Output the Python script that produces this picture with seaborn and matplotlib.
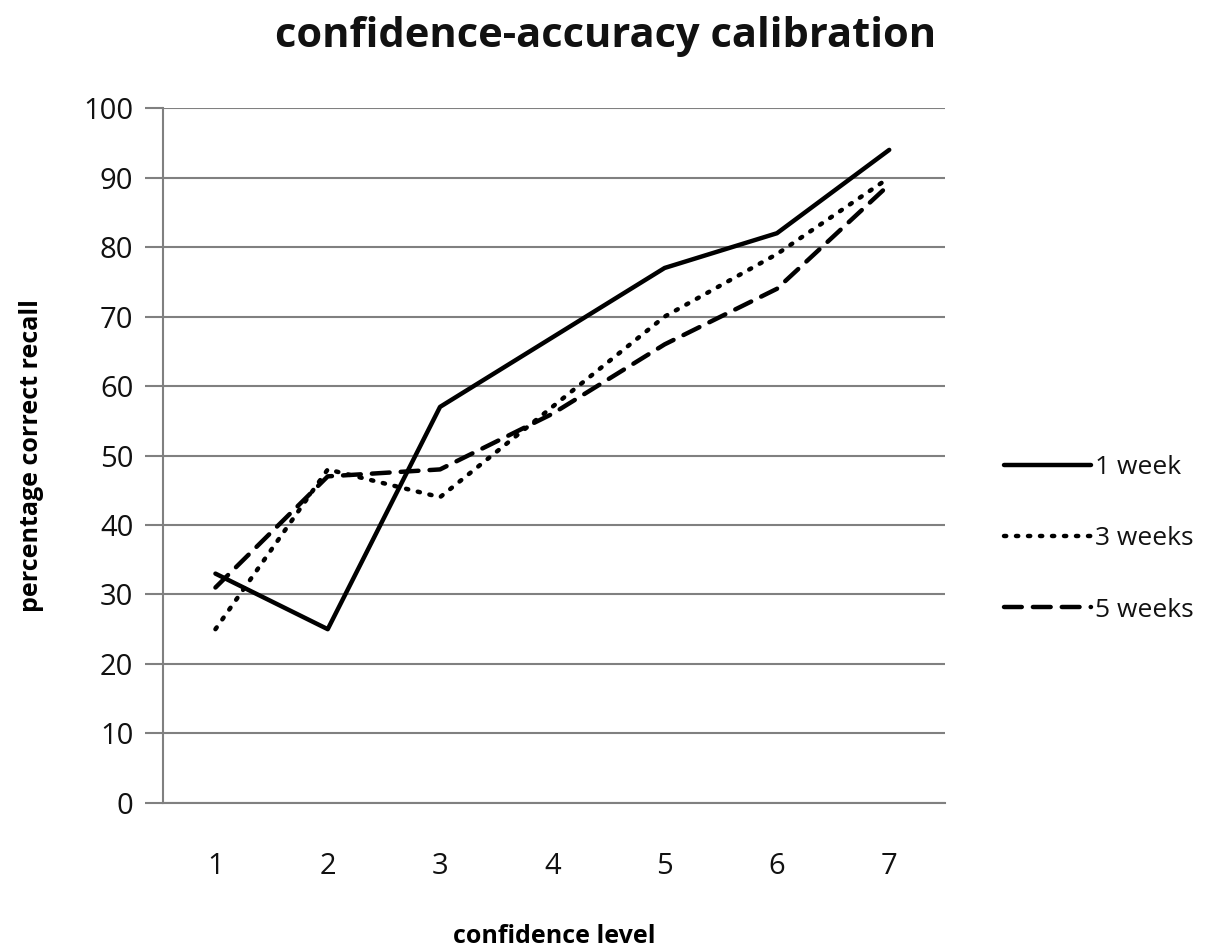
import matplotlib as mpl
from matplotlib import pyplot as plt
import seaborn as sns
import numpy as np
import pandas as pd

levels = [1, 2, 3, 4, 5, 6, 7]
week1 = [33, 25, 57, 67, 77, 82, 94]
week3 = [25, 48, 44, 57, 70, 79, 90]
week5 = [31, 47, 48, 56, 66, 74, 89]
series_names = ["1 week", "3 weeks", "5 weeks"]

df = pd.DataFrame({
    "level": levels * 3,
    "value": week1 + week3 + week5,
    "group": [series_names[0]] * 7 + [series_names[1]] * 7 + [series_names[2]] * 7,
})

sns.set_style("white")
plt.rcParams['font.family'] = ['Open Sans', 'DejaVu Sans']
plt.rcParams['text.color'] = "#111111"
plt.rcParams['xtick.color'] = "#111111"
plt.rcParams['ytick.color'] = "#111111"
plt.rcParams['axes.labelcolor'] = "#000000"

fig = plt.figure(figsize=(12.23, 9.49), dpi=100)
ax = fig.add_axes([0.133, 0.154, 0.64, 0.732])

ax = sns.lineplot(data=df, x="level", y="value", style="group", color="black",
                  dashes={"1 week": "", "3 weeks": (0.5, 2.2), "5 weeks": (4, 2.5)},
                  linewidth=3.2, ax=ax)
for line in ax.get_lines():
    line.set_dash_capstyle("round")

ax.set_xlim(0.53, 7.5)
ax.set_ylim(0, 100)
ax.set_yticks(range(0, 101, 10))
ax.set_xticks(levels)
ax.yaxis.grid(True, color="#808080", linewidth=1.5)
ax.xaxis.grid(False)
for s in ["top", "right"]:
    ax.spines[s].set_visible(False)
ax.spines["left"].set_color("#808080")
ax.spines["bottom"].set_color("#808080")
ax.spines["left"].set_linewidth(1.5)
ax.spines["bottom"].set_linewidth(1.5)
ax.tick_params(axis="y", left=True, length=13, width=1.5, color="#808080", labelsize=21, pad=8)
ax.tick_params(axis="x", bottom=False, labelsize=21, pad=32)

ax.set_xlabel("confidence level", fontsize=18, fontweight="bold", labelpad=31)
ax.set_ylabel("percentage correct recall", fontsize=18, fontweight="bold", labelpad=28)
fig.suptitle("confidence-accuracy calibration", fontsize=30, fontweight="bold", x=0.495, y=0.983)

leg = ax.legend(loc="center left", bbox_to_anchor=(1.045, 0.38), frameon=False,
                fontsize=19, handlelength=3.3, handletextpad=0.15, labelspacing=1.75, title=None)

fig.savefig("out.png", dpi=100)
